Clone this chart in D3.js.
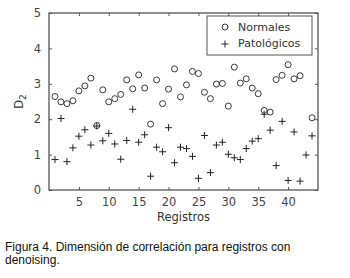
<!DOCTYPE html>
<html>
<head>
<meta charset="utf-8">
<script src="https://cdn.jsdelivr.net/npm/d3@7"></script>
<style>
  body { margin: 0; background: #fff; }
  text { font-family: "DejaVu Sans", sans-serif; }
</style>
</head>
<body>
<div id="chart"></div>
<script>
// registro index 1..44
const registros = d3.range(1, 45);
const normales = [2.64, 2.49, 2.44, 2.52, 2.80, 2.94, 3.16, 1.82, 2.83, 2.49,
  2.58, 2.70, 3.11, 2.86, 3.25, 2.88, 1.86, 3.11, 2.44, 2.85,
  3.42, 2.63, 2.97, 3.35, 3.29, 2.76, 2.58, 2.99, 3.01, 2.37,
  3.47, 3.02, 3.14, 2.88, 2.72, 2.25, 2.20, 3.12, 3.24, 3.54,
  3.14, 3.23, null, 2.04];
const patologicos = [0.86, 2.02, 0.80, 1.19, 1.52, 1.70, 1.27, 1.81, 1.39, 1.60,
  1.30, 0.87, 1.40, 2.28, 1.35, 1.56, 0.39, 1.21, 1.08, 1.76,
  0.77, 1.21, 1.17, 0.95, 0.33, 1.54, 0.49, 1.27, 1.35, 1.01,
  0.91, 0.86, 1.17, 1.38, 1.45, 2.14, 1.69, 0.69, 1.94, 0.27,
  1.64, 0.25, 0.99, 1.53];
const xTicks = [5, 10, 15, 20, 25, 30, 35, 40];
const yTicks = [0, 1, 2, 3, 4, 5];
const caption = ["Figura 4. Dimensión de correlación para registros con", "denoising."];

const width = 350, height = 278;
const margin = { top: 13, left: 49, bottom: 88, right: 32 };
const iwidth = width - margin.left - margin.right;
const iheight = height - margin.top - margin.bottom;
const axisColor = "#555";

const svg = d3.select("#chart").append("svg")
  .attr("width", width).attr("height", height);

const x = d3.scaleLinear().domain([0, 45]).range([0, iwidth]);
const y = d3.scaleLinear().domain([0, 5]).range([iheight, 0]);

const g = svg.append("g").attr("transform", `translate(${margin.left},${margin.top})`);

// axes with inward ticks (box style)
const styleAxis = (sel) => {
  sel.select(".domain").remove();
  sel.selectAll(".tick line").attr("stroke", axisColor);
  sel.selectAll(".tick text").attr("fill", "#444").style("font-size", "11.5px");
};

g.append("g").attr("transform", `translate(0,${iheight})`)
  .call(d3.axisBottom(x).tickValues(xTicks).tickSizeInner(-3).tickPadding(8))
  .call(styleAxis);
g.append("g")
  .call(d3.axisTop(x).tickValues(xTicks).tickSizeInner(-3).tickFormat(""))
  .call(styleAxis);
g.append("g")
  .call(d3.axisLeft(y).tickValues(yTicks).tickSizeInner(-3).tickPadding(8).tickFormat(d3.format("d")))
  .call(styleAxis);
g.append("g").attr("transform", `translate(${iwidth},0)`)
  .call(d3.axisRight(y).tickValues(yTicks).tickSizeInner(-3).tickFormat(""))
  .call(styleAxis);

g.append("rect")
  .attr("width", iwidth).attr("height", iheight)
  .attr("fill", "none").attr("stroke", axisColor).attr("stroke-width", 1.3);

// markers
const circ = registros.map((r, i) => ({ r, v: normales[i] })).filter(d => d.v != null);
g.selectAll("circle.norm").data(circ).enter().append("circle")
  .attr("class", "norm")
  .attr("cx", d => x(d.r)).attr("cy", d => y(d.v)).attr("r", 3)
  .attr("fill", "none").attr("stroke", "#222").attr("stroke-width", 0.9);

g.selectAll("path.pat").data(registros.map((r, i) => ({ r, v: patologicos[i] })))
  .enter().append("path")
  .attr("class", "pat")
  .attr("transform", d => `translate(${x(d.r)},${y(d.v)})`)
  .attr("d", "M-3.5,0H3.5M0,-3.5V3.5")
  .attr("stroke", "#222").attr("stroke-width", 1);

// legend
const lg = svg.append("g").attr("transform", "translate(207,16)");
lg.append("rect").attr("width", 105).attr("height", 39)
  .attr("fill", "#fff").attr("stroke", axisColor).attr("stroke-width", 1);
lg.append("circle").attr("cx", 18).attr("cy", 11).attr("r", 3)
  .attr("fill", "none").attr("stroke", "#222").attr("stroke-width", 0.9);
lg.append("path").attr("transform", "translate(18,28)")
  .attr("d", "M-3.5,0H3.5M0,-3.5V3.5").attr("stroke", "#222");
lg.append("text").attr("x", 31).attr("y", 15).attr("fill", "#333")
  .style("font-size", "11px").text("Normales");
lg.append("text").attr("x", 31).attr("y", 31).attr("fill", "#333")
  .style("font-size", "11px").text("Patológicos");

// axis labels
svg.append("text")
  .attr("x", margin.left + iwidth / 2).attr("y", 221)
  .attr("text-anchor", "middle").attr("fill", "#333")
  .style("font-size", "11.5px").text("Registros");

const yl = svg.append("text")
  .attr("transform", `translate(23,${margin.top + iheight / 2}) rotate(-90)`)
  .attr("text-anchor", "middle").attr("fill", "#333").style("font-size", "11.5px");
yl.append("tspan").text("D");
yl.append("tspan").attr("dy", 3).style("font-size", "9px").text("2");

// caption
svg.selectAll("text.cap").data(caption).enter().append("text")
  .attr("class", "cap")
  .attr("x", 5).attr("y", (d, i) => 251 + i * 13)
  .style("font-family", "'Liberation Sans', Arial, sans-serif")
  .style("font-size", "12px").attr("fill", "#111")
  .text(d => d);
</script>
</body>
</html>
